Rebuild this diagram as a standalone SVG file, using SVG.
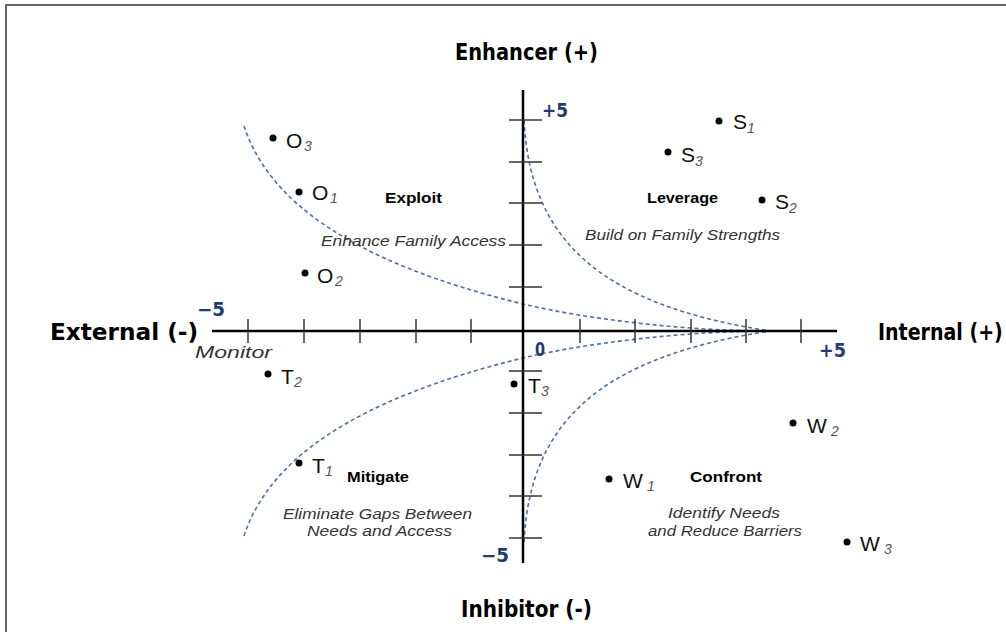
<svg xmlns="http://www.w3.org/2000/svg" width="1006" height="632" viewBox="0 0 1006 632">
<style>
.head{font-family:"DejaVu Sans Condensed","DejaVu Sans",sans-serif;font-weight:bold;font-stretch:condensed;font-size:23px;fill:#000}
.num{font-family:"DejaVu Sans Condensed","DejaVu Sans",sans-serif;font-weight:bold;font-size:19px;fill:#1e3d73}
.quad{font-family:"Liberation Sans",Arial,sans-serif;font-weight:bold;font-size:14px;fill:#000}
.desc{font-family:"Liberation Sans",Arial,sans-serif;font-style:italic;font-size:15px;fill:#333}
.mon{font-family:"Liberation Sans",Arial,sans-serif;font-style:italic;font-size:17px;fill:#333}
.pt{font-family:"Liberation Sans",Arial,sans-serif;font-size:21px;fill:#111}
.sub{font-family:"Liberation Sans",Arial,sans-serif;font-style:italic;font-size:14px;fill:#555}
.dot{fill:#000}
.axis{stroke:#000;stroke-width:2.5;fill:none}
.tick{stroke:#333;stroke-width:1.5}
.curve{fill:none;stroke:#4f6fa0;stroke-width:1.6;stroke-dasharray:4 3}
</style>
<rect width="1006" height="632" fill="#fff"/>
<g id="frame" stroke="#666" stroke-width="2" fill="none">
<line x1="5" y1="5" x2="1006" y2="5"/>
<line x1="6" y1="5" x2="6" y2="632"/>
</g>
<g id="connectors">
<path class="curve" d="M244,126 C268,200 350,262 523,304 C590,320 690,331 770,331"/>
<path class="curve" d="M244,536 C268,462 350,400 523,358 C590,342 690,331 770,331"/>
<path class="curve" d="M524,120 C530,240 600,305 770,331"/>
<path class="curve" d="M524,542 C530,422 600,357 770,331"/>
</g>
<g id="axes">
<line class="axis" x1="212" y1="331" x2="837" y2="331" stroke-width="2"/>
<line class="axis" x1="523" y1="90" x2="523" y2="563"/>
<g class="tick">
<line x1="248" y1="319" x2="248" y2="343"/>
<line x1="304" y1="319" x2="304" y2="343"/>
<line x1="360" y1="319" x2="360" y2="343"/>
<line x1="416" y1="319" x2="416" y2="343"/>
<line x1="471" y1="319" x2="471" y2="343"/>
<line x1="580" y1="319" x2="580" y2="343"/>
<line x1="635" y1="319" x2="635" y2="343"/>
<line x1="691" y1="319" x2="691" y2="343"/>
<line x1="746" y1="319" x2="746" y2="343"/>
<line x1="801" y1="319" x2="801" y2="343"/>
</g>
<g class="tick" stroke="#000">
<line x1="509" y1="120" x2="542" y2="120"/>
<line x1="509" y1="162" x2="542" y2="162"/>
<line x1="509" y1="203" x2="542" y2="203"/>
<line x1="509" y1="245" x2="542" y2="245"/>
<line x1="509" y1="287" x2="542" y2="287"/>
<line x1="509" y1="371" x2="542" y2="371"/>
<line x1="509" y1="413" x2="542" y2="413"/>
<line x1="509" y1="455" x2="542" y2="455"/>
<line x1="509" y1="496" x2="542" y2="496"/>
<line x1="509" y1="538" x2="542" y2="538"/>
</g>
</g>
<g id="axis-labels">
<text class="head" x="455" y="60" textLength="143" lengthAdjust="spacingAndGlyphs">Enhancer (+)</text>
<text class="head" x="50" y="340" textLength="148" lengthAdjust="spacingAndGlyphs">External (-)</text>
<text class="head" transform="translate(878,340) scale(0.92,1)" x="0" y="0">Internal (+)</text>
<text class="head" x="461" y="617" textLength="131" lengthAdjust="spacingAndGlyphs">Inhibitor (-)</text>
<text class="num" x="197" y="316" textLength="28" lengthAdjust="spacingAndGlyphs">−5</text>
<text class="num" x="542" y="117" textLength="26" lengthAdjust="spacingAndGlyphs">+5</text>
<text class="num" x="535" y="356" textLength="10" lengthAdjust="spacingAndGlyphs">0</text>
<text class="num" x="819" y="357" textLength="27" lengthAdjust="spacingAndGlyphs">+5</text>
<text class="num" x="481" y="562" textLength="28" lengthAdjust="spacingAndGlyphs">−5</text>
<text class="mon" x="195" y="358" textLength="77" lengthAdjust="spacingAndGlyphs">Monitor</text>
</g>
<g id="quadrant-exploit">
<text class="quad" x="385" y="203" textLength="57" lengthAdjust="spacingAndGlyphs">Exploit</text>
<text class="desc" x="321" y="246" textLength="185" lengthAdjust="spacingAndGlyphs">Enhance Family Access</text>
</g>
<g id="quadrant-leverage">
<text class="quad" x="647" y="203" textLength="71" lengthAdjust="spacingAndGlyphs">Leverage</text>
<text class="desc" x="585" y="240" textLength="195" lengthAdjust="spacingAndGlyphs">Build on Family Strengths</text>
</g>
<g id="quadrant-mitigate">
<text class="quad" x="347" y="482" textLength="62" lengthAdjust="spacingAndGlyphs">Mitigate</text>
<text class="desc" x="283" y="519" textLength="189" lengthAdjust="spacingAndGlyphs">Eliminate Gaps Between</text>
<text class="desc" x="307" y="536" textLength="145" lengthAdjust="spacingAndGlyphs">Needs and Access</text>
</g>
<g id="quadrant-confront">
<text class="quad" x="690" y="482" textLength="72" lengthAdjust="spacingAndGlyphs">Confront</text>
<text class="desc" x="668" y="518" textLength="112" lengthAdjust="spacingAndGlyphs">Identify Needs</text>
<text class="desc" x="648" y="536" textLength="154" lengthAdjust="spacingAndGlyphs">and Reduce Barriers</text>
</g>
<g id="point-O3"><circle class="dot" cx="273" cy="138" r="3.5"/><text class="pt" x="286" y="148">O</text><text class="sub" x="304" y="151">3</text></g>
<g id="point-O1"><circle class="dot" cx="299" cy="192" r="3.5"/><text class="pt" x="312" y="200">O</text><text class="sub" x="330" y="203">1</text></g>
<g id="point-O2"><circle class="dot" cx="305" cy="273" r="3.5"/><text class="pt" x="317" y="283">O</text><text class="sub" x="335" y="286">2</text></g>
<g id="point-S1"><circle class="dot" cx="719" cy="121" r="3.5"/><text class="pt" x="733" y="129">S</text><text class="sub" x="747" y="133">1</text></g>
<g id="point-S3"><circle class="dot" cx="668" cy="152" r="3.5"/><text class="pt" x="681" y="162">S</text><text class="sub" x="695" y="166">3</text></g>
<g id="point-S2"><circle class="dot" cx="762" cy="200" r="3.5"/><text class="pt" x="775" y="209">S</text><text class="sub" x="789" y="213">2</text></g>
<g id="point-T2"><circle class="dot" cx="268" cy="374" r="3.5"/><text class="pt" x="281" y="384">T</text><text class="sub" x="294" y="387">2</text></g>
<g id="point-T1"><circle class="dot" cx="299" cy="463" r="3.5"/><text class="pt" x="312" y="473">T</text><text class="sub" x="325" y="476">1</text></g>
<g id="point-T3"><circle class="dot" cx="514" cy="384" r="3.5"/><text class="pt" x="528" y="393">T</text><text class="sub" x="541" y="396">3</text></g>
<g id="point-W1"><circle class="dot" cx="609" cy="479" r="3.5"/><text class="pt" x="623" y="488">W</text><text class="sub" x="647" y="491">1</text></g>
<g id="point-W2"><circle class="dot" cx="793" cy="423" r="3.5"/><text class="pt" x="807" y="433">W</text><text class="sub" x="831" y="436">2</text></g>
<g id="point-W3"><circle class="dot" cx="847" cy="542" r="3.5"/><text class="pt" x="860" y="551">W</text><text class="sub" x="884" y="554">3</text></g>
</svg>
